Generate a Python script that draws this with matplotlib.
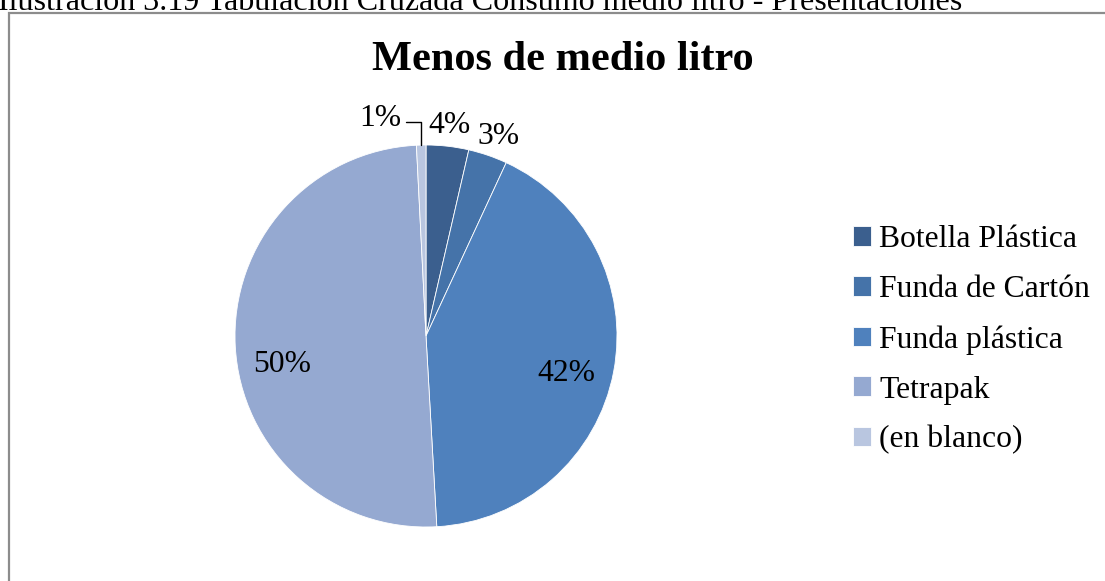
import numpy as np
import matplotlib.pyplot as plt
from matplotlib.patches import Rectangle

# datos
categorias = ['Botella Plástica', 'Funda de Cartón', 'Funda plástica', 'Tetrapak', '(en blanco)']
porcentajes = [3.6, 3.3, 42.2, 50.1, 0.8]
etiquetas = ['4%', '3%', '42%', '50%', '1%']
colores = ['#3b5f8e', '#4573a9', '#4f81bd', '#95a9d1', '#b9c6e0']

plt.rcParams['font.family'] = ['Liberation Serif', 'DejaVu Serif']

W, H = 1105, 581
fig = plt.figure(figsize=(W / 100, H / 100), dpi=100)

# marco del grafico
fig.patches.append(Rectangle((9 / W, -0.1), 1.2, (H - 13) / H + 0.1, transform=fig.transFigure,
                             fill=False, edgecolor='#8c8c8c', linewidth=1.6))

# leyenda de la ilustracion (cortada arriba)
fig.text(-2 / W, (H - 10) / H, 'Ilustración 3.19 Tabulación Cruzada Consumo medio litro - Presentaciones',
         fontsize=23.1, va='baseline', ha='left')

fig.text(563 / W, (H - 60) / H, 'Menos de medio litro', fontsize=30.5, fontweight='bold',
         ha='center', va='center')

# pastel: centro (426, 336), radio 191 px
cx, cy, r = 426, 336, 191
ax = fig.add_axes([(cx - r) / W, (H - cy - r) / H, 2 * r / W, 2 * r / H])
wedges, _ = ax.pie(porcentajes, colors=colores, startangle=90, counterclock=False,
                   wedgeprops=dict(edgecolor='white', linewidth=0.6))
ax.set_xlim(-1, 1)
ax.set_ylim(-1, 1)
ax.axis('off')

dist = [1.11, 1.11, 0.76, 0.77, None]
ajuste = [0, -1, -4, 8, 0]
for w, lab, d, a in zip(wedges, etiquetas, dist, ajuste):
    ang = np.deg2rad((w.theta1 + w.theta2) / 2 + a)
    if d is None:
        # etiqueta con linea guia
        x0 = np.cos(ang)
        y0 = np.sin(ang)
        ax.annotate('', xy=(x0, y0), xytext=(x0 - 0.08, y0 + 0.12), annotation_clip=False,
                    arrowprops=dict(arrowstyle='-', color='black', lw=1,
                                    connectionstyle='angle,angleA=0,angleB=90,rad=0',
                                    shrinkA=0, shrinkB=0))
        ax.text(x0 - 0.215, y0 + 0.14, lab, fontsize=22.8, ha='center', va='center')
    else:
        ax.text(d * np.cos(ang), d * np.sin(ang), lab, fontsize=22.8, ha='center', va='center')

leg = fig.legend(wedges, categorias, loc='center left', bbox_to_anchor=(853 / W, (H - 340) / H),
                 frameon=False, fontsize=22.8, handlelength=0.58, handleheight=0.58,
                 handletextpad=0.25, labelspacing=0.66, borderpad=0, borderaxespad=0)

fig.savefig('out.png', dpi=100)
